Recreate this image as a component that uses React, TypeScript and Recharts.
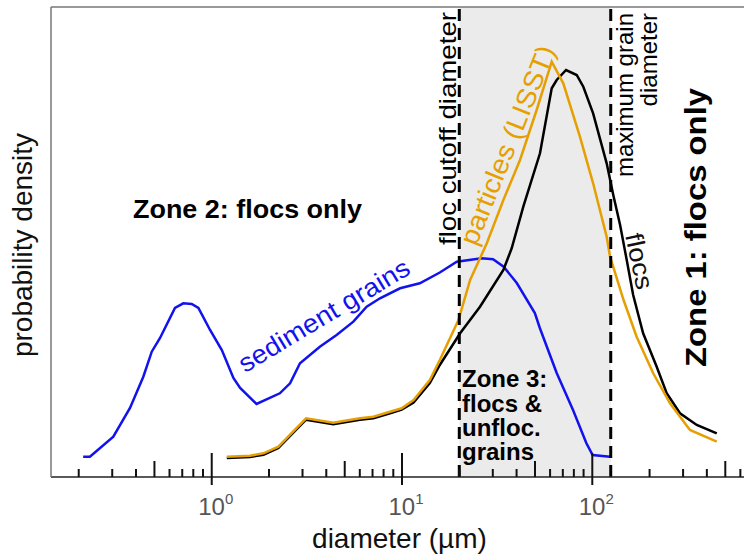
import { LineChart, Line, XAxis, YAxis, ReferenceArea, ReferenceLine } from 'recharts';

// sediment grain size distribution (µm, density)
const sedimentDiameter = [
  0.211, 0.229, 0.304, 0.372, 0.437, 0.484, 0.535, 0.641, 0.709, 0.785, 0.851, 0.98,
  1.13, 1.3, 1.41, 1.72, 2.28, 2.58, 2.91, 3.7, 4.53, 5.55, 6.52, 7.66, 9.77, 12.4,
  15.8, 19.4, 26.2, 30.1, 34.2, 40.1, 49.9, 53.0, 65.0, 79.2, 93.0, 100.4, 124,
];
const sedimentDensity = [
  20.3, 20.3, 40.3, 69, 100.3, 125.3, 139, 169, 173.7, 173, 169, 147,
  127, 99, 89, 73, 83.7, 93.7, 113.7, 130.3, 142, 155.3, 170.3, 178.7, 188.7, 193.7,
  204.5, 215.3, 218.7, 217.7, 210.3, 194, 164, 149, 104, 67, 34, 22, 20.3,
];

// LISST particle sizes
const particleDiameter = [
  1.2, 1.59, 1.87, 2.24, 3.13, 4.35, 6.01, 7.07, 8.65, 9.96, 11.5, 14.0, 15.8, 19.8,
  22.8, 27.9, 34.1, 41.7, 51.0, 61.2, 70.4, 86.1, 101, 119, 124, 146, 171, 209, 256,
  326, 451,
];
const particleDensity = [
  20.3, 21.3, 23.7, 30.3, 58.7, 54.3, 58.7, 60.3, 65.3, 68.7, 77, 97, 117, 157,
  197, 233.7, 277, 317, 367, 415.3, 393.7, 340.3, 293.7, 240.3, 220.3, 177, 140.3, 103.7, 73.7,
  47, 35.3,
];

// floc sizes
const flocDiameter = [
  1.2, 1.59, 1.87, 2.24, 3.13, 4.35, 6.01, 7.07, 8.65, 9.96, 11.5, 14.0, 15.8, 20.2,
  25.7, 34.1, 37.7, 43.4, 53.1, 61.2, 65.0, 72.8, 82.8, 89.7, 101, 119, 128.9, 140,
  151.7, 164, 185, 218, 246, 289, 354, 451,
];
const flocDensity = [
  19, 20, 22.3, 29, 57.3, 52.8, 57.3, 58.8, 63.8, 67.3, 74.5, 94, 112, 143.7,
  170.3, 207, 228.7, 270.3, 323.7, 388.7, 397, 407, 402, 390.3, 363.7, 313.7, 282, 252,
  217, 182, 143.7, 110.3, 83.7, 63.7, 52, 43.7,
];

const flocCutoff = 20;
const maxGrain = 125;
const xDomain = [0.143, 627];
const yDomain = [0, 470];

const diameterTicks = [
  0.2, 0.3, 0.4, 0.5, 0.6, 0.7, 0.8, 0.9,
  1, 2, 3, 4, 5, 6, 7, 8, 9,
  10, 20, 30, 40, 50, 60, 70, 80, 90,
  100, 200, 300, 400, 500, 600,
];

const toRows = (xs: number[], ys: number[]) => xs.map((d, i) => ({ d, p: ys[i] }));
const sediment = toRows(sedimentDiameter, sedimentDensity);
const particles = toRows(particleDiameter, particleDensity);
const flocs = toRows(flocDiameter, flocDensity);

const BLUE = '#1212ee';
const ORANGE = '#e69f00';
const FONT = '"Liberation Sans", Arial, Helvetica, sans-serif';

function DiameterTick(props: any) {
  const { x, y, payload } = props;
  const v = payload.value;
  const exp = Math.floor(Math.log10(v) + 1e-9);
  const lead = Math.round(v / Math.pow(10, exp));
  const major = lead === 1;
  const len = major ? 24 : lead === 5 ? 16 : 8;
  return (
    <g>
      <line x1={x} x2={x} y1={y - len} y2={major ? y + 8 : y} stroke="#111" strokeWidth={2} />
      {major && (
        <text x={x + 4} y={y + 38} textAnchor="middle" fontSize={24} fill="#555" fontFamily={FONT}>
          10<tspan fontSize={15} dy={-11}>{exp}</tspan>
        </text>
      )}
    </g>
  );
}

function Annotations() {
  return (
    <svg
      width={744}
      height={557}
      style={{ position: 'absolute', left: 0, top: 0, pointerEvents: 'none' }}
      fontFamily={FONT}
    >
      <text x={32} y={245} fontSize={28} textAnchor="middle" fill="#111" transform="rotate(-90 32 245)">
        probability density
      </text>
      <text x={399.5} y={548} fontSize={28} textAnchor="middle" fill="#111">
        diameter (µm)
      </text>

      <text x={133} y={218} fontSize={26} fontWeight="bold" textLength={229} lengthAdjust="spacingAndGlyphs">
        Zone 2: flocs only
      </text>
      <text
        x={706} y={227.5} fontSize={30} fontWeight="bold" textAnchor="middle"
        textLength={279} lengthAdjust="spacingAndGlyphs" transform="rotate(-90 706 227.5)"
      >
        Zone 1: flocs only
      </text>
      <g fontSize={24} fontWeight="bold">
        <text x={462} y={387}>Zone 3:</text>
        <text x={462} y={411.5}>flocs &amp;</text>
        <text x={462} y={436}>unfloc.</text>
        <text x={462} y={460}>grains</text>
      </g>

      <text
        x={456} y={128.5} fontSize={24} textAnchor="middle" textLength={233} lengthAdjust="spacingAndGlyphs"
        transform="rotate(-90 456 128.5)"
      >
        floc cutoff diameter
      </text>
      <text x={633} y={13} fontSize={24} textAnchor="end" transform="rotate(-90 633 13)">
        maximum grain
      </text>
      <text x={657} y={13} fontSize={24} textAnchor="end" transform="rotate(-90 657 13)">
        diameter
      </text>

      <text
        x={328.5} y={323} fontSize={26} fill={BLUE} textAnchor="middle" textLength={195}
        lengthAdjust="spacingAndGlyphs" transform="rotate(-31 328.5 323)"
      >
        sediment grains
      </text>
      <text
        x={516} y={148.6} fontSize={27} fill={ORANGE} textAnchor="middle" textLength={212}
        lengthAdjust="spacingAndGlyphs" transform="rotate(-68 516 148.6)"
      >
        particles (LISST)
      </text>
      <text
        x={631} y={263} fontSize={25} fill="#111" textAnchor="middle" textLength={57}
        lengthAdjust="spacingAndGlyphs" transform="rotate(78 631 263)"
      >
        flocs
      </text>
    </svg>
  );
}

export default function App() {
  return (
    <div style={{ position: 'absolute', left: 0, top: 0, width: 744, height: 557, background: '#fff' }}>
      <LineChart width={744} height={557} margin={{ top: 7, right: 0, left: 50, bottom: 79 }}>
        <XAxis
          dataKey="d"
          type="number"
          scale="log"
          domain={xDomain}
          allowDataOverflow
          ticks={diameterTicks}
          interval={0}
          tick={<DiameterTick />}
          tickLine={false}
          tickSize={0}
          tickMargin={0}
          height={1}
          axisLine={{ stroke: '#222', strokeWidth: 1.5 }}
        />
        <YAxis
          dataKey="p"
          type="number"
          domain={yDomain}
          allowDataOverflow
          tick={false}
          tickLine={false}
          width={1}
          axisLine={{ stroke: '#777', strokeWidth: 1.5 }}
        />
        <ReferenceArea x1={flocCutoff} x2={maxGrain} fill="#ebebeb" fillOpacity={1} stroke="none" />
        <ReferenceLine y={yDomain[1]} stroke="#777" strokeWidth={1.5} />
        <Line data={sediment} dataKey="p" type="linear" stroke={BLUE} strokeWidth={2.5} dot={false} isAnimationActive={false} />
        <Line data={flocs} dataKey="p" type="linear" stroke="#000" strokeWidth={2.5} dot={false} isAnimationActive={false} />
        <Line data={particles} dataKey="p" type="linear" stroke={ORANGE} strokeWidth={2.5} dot={false} isAnimationActive={false} />
        <ReferenceLine x={flocCutoff} stroke="#000" strokeWidth={3} strokeDasharray="12 7" />
        <ReferenceLine x={maxGrain} stroke="#000" strokeWidth={3} strokeDasharray="12 7" />
      </LineChart>
      <Annotations />
    </div>
  );
}
